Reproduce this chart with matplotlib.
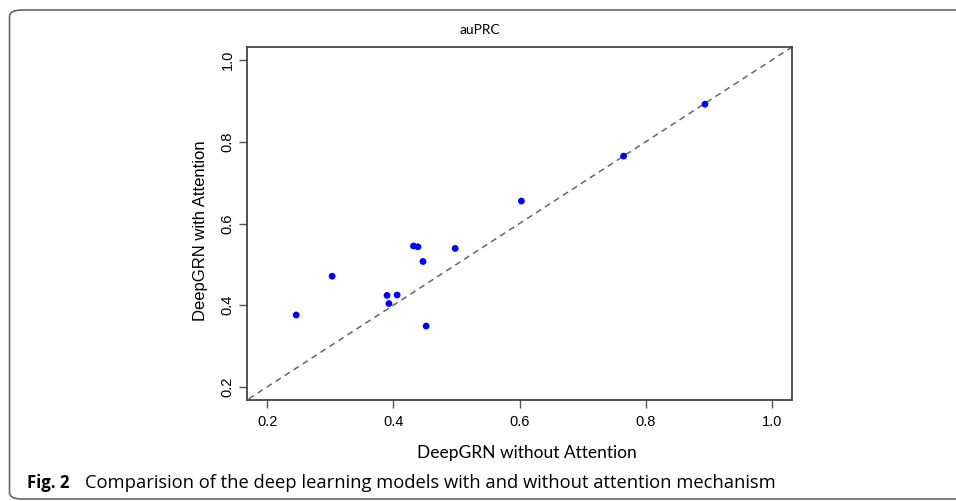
import numpy as np
import matplotlib.pyplot as plt
from matplotlib.patches import FancyBboxPatch

plt.rcParams['font.family'] = ['Liberation Sans', 'DejaVu Sans']

# auPRC values
without_att = [0.246, 0.303, 0.390, 0.393, 0.406, 0.432, 0.439, 0.447, 0.452, 0.498, 0.603, 0.765, 0.894]
with_att = [0.376, 0.471, 0.424, 0.404, 0.425, 0.545, 0.543, 0.507, 0.349, 0.539, 0.655, 0.765, 0.892]
ticks = [0.2, 0.4, 0.6, 0.8, 1.0]

fig = plt.figure(figsize=(9.56, 5.01), dpi=100)

# rounded frame around the figure + caption
box = FancyBboxPatch((9.5 / 956, 2 / 501), 1.2, 489 / 501,
                     boxstyle='round,pad=0,rounding_size=0.013',
                     transform=fig.transFigure, fill=False,
                     edgecolor='#666666', linewidth=1.2)
fig.patches.append(box)

ax = fig.add_axes([247 / 956, 101 / 501, 545 / 956, 353 / 501])
ax.plot([0, 1.2], [0, 1.2], ls=(0, (4, 3)), color='#666666', lw=1.1, zorder=1)
ax.scatter(without_att, with_att, s=24, color='#0000ff', edgecolors='none', zorder=2)

ax.set_xlim(0.168, 1.032)
ax.set_ylim(0.168, 1.032)
ax.set_xticks(ticks)
ax.set_yticks(ticks)
ax.set_xticklabels(['%.1f' % t for t in ticks], fontsize=10.5)
ax.set_yticklabels(['%.1f' % t for t in ticks], fontsize=10.5, rotation=90, va='center')
ax.tick_params(direction='out', length=6, width=1, color='#555555')
ax.tick_params(axis='y', pad=3)
ax.tick_params(axis='x', pad=5)
for s in ax.spines.values():
    s.set_color('#444444')
    s.set_linewidth(1.3)

fig.text(480 / 956, 1 - 30 / 501, 'auPRC', fontsize=10, ha='center', va='center',
         family=['Lato', 'DejaVu Sans'])
fig.text(527 / 956, 1 - 453 / 501, 'DeepGRN without Attention', fontsize=12.5,
         ha='center', va='center', family=['Lato', 'DejaVu Sans'])
fig.text(200 / 956, 1 - 231 / 501, 'DeepGRN with Attention', fontsize=12,
         ha='center', va='center', rotation=90)

fig.text(27 / 956, 1 - 483 / 501, 'Fig. 2', fontsize=12, fontweight='bold',
         family=['Open Sans', 'DejaVu Sans'], va='center')
fig.text(85 / 956, 1 - 483 / 501,
         'Comparision of the deep learning models with and without attention mechanism',
         fontsize=13.2, family=['Open Sans', 'DejaVu Sans'], va='center')

fig.savefig('out.png', dpi=100)
